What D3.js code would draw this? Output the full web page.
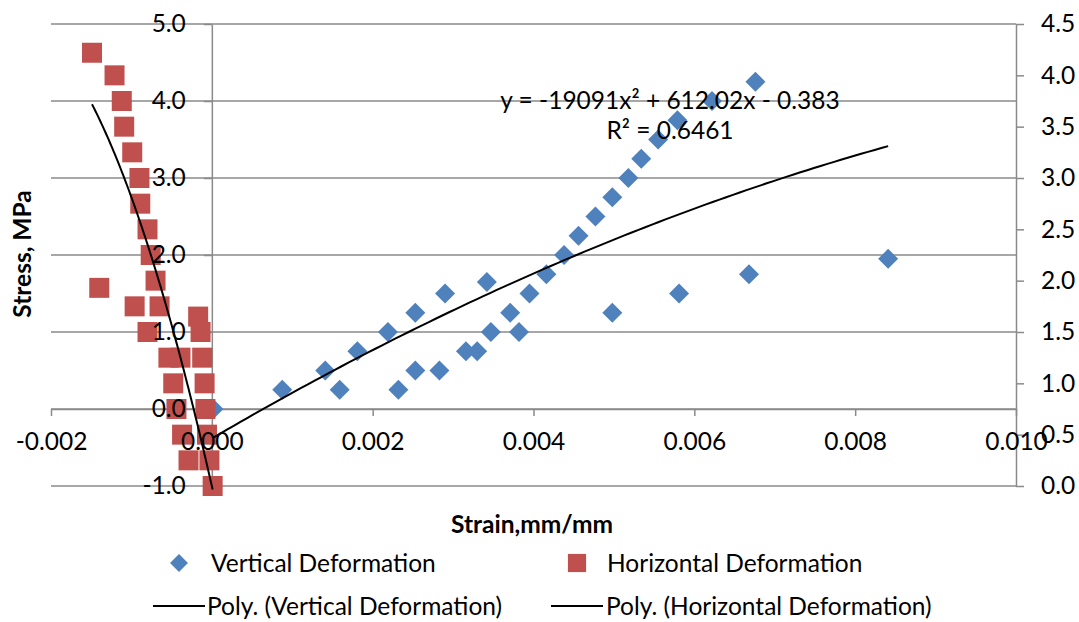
<!DOCTYPE html>
<html><head><meta charset="utf-8">
<script src="https://cdn.jsdelivr.net/npm/d3@7"></script>
<style>
html,body{margin:0;padding:0;background:#fff;}
svg text{font-family:Lato,"Open Sans",sans-serif;fill:#000;}
</style></head>
<body><svg id="c" width="1079" height="622"></svg>
<script>
// ---- data ----
const vertStrain = [0.00002,0.000876,0.00141,0.00159,0.00181,0.00219,0.00232,0.00253,0.00253,0.00283,0.00290,0.00316,0.00330,0.00342,0.00347,0.00371,0.00382,0.00395,0.00416,0.00438,0.00456,0.00477,0.00498,0.00518,0.00534,0.00555,0.00579,0.00622,0.00676,0.00498,0.00581,0.00668,0.00841];
const vertStress = [0,0.25,0.5,0.25,0.75,1.0,0.25,1.25,0.5,0.5,1.5,0.75,0.75,1.65,1.0,1.25,1.0,1.5,1.75,2.0,2.25,2.5,2.75,3.0,3.25,3.5,3.75,4.0,4.25,1.25,1.5,1.75,1.95];
const horzStrain = [-0.00149,-0.00121,-0.00112,-0.00109,-0.00099,-0.00090,-0.00089,-0.00080,-0.00076,-0.00070,-0.00140,-0.00096,-0.00065,-0.00017,-0.00080,-0.00014,-0.00054,-0.00039,-0.00012,-0.00048,-0.00009,-0.00044,-0.00008,-0.00037,-0.00006,-0.00029,-0.00003,0.00001];
const horzStress = [4.22,4.0,3.75,3.5,3.25,3.0,2.75,2.5,2.25,2.0,1.93,1.75,1.75,1.65,1.5,1.5,1.25,1.25,1.25,1.0,1.0,0.75,0.75,0.5,0.5,0.25,0.25,0];
// polynomial trendline coefficients [a, b, c] for y = a x^2 + b x + c
const vertPolyCoef = [-19091, 612.02, -0.383];   // printed on the chart
const horzPolyCoef = [-645900, -3458, 0];        // estimated from the drawn curve
const xTicks = [-0.002,0,0.002,0.004,0.006,0.008,0.010];
const yLeftTicks = [-1,0,1,2,3,4,5];
const yRightTicks = [0,0.5,1,1.5,2,2.5,3,3.5,4,4.5];
const eqLines = ["y = -19091x\u00B2 + 612.02x - 0.383","R\u00B2 = 0.6461"];
const xTitle = "Strain,mm/mm", yTitle = "Stress, MPa";
const legendNames = ["Vertical Deformation","Horizontal Deformation","Poly. (Vertical Deformation)","Poly. (Horizontal Deformation)"];

const svg = d3.select("#c");
const x = d3.scaleLinear().domain([-0.002,0.010]).range([51,1016]);
const yL = d3.scaleLinear().domain([-1,5]).range([486,24]);
const yR = d3.scaleLinear().domain([0,4.5]).range([486,24]);
const grid = "#8a8a8a";
const FS = 24.5;
const blue = "#4F81BD", red = "#C0504D";

// gridlines
svg.append("g").selectAll("line").data(yLeftTicks).join("line")
  .attr("x1",x(-0.002)).attr("x2",x(0.010)).attr("y1",d=>yL(d)).attr("y2",d=>yL(d))
  .attr("stroke",grid).attr("stroke-width",1.5);

const axB = d3.axisBottom(x).tickValues(xTicks).tickFormat(d=>d.toFixed(3)).tickSize(7).tickSizeOuter(0).tickPadding(17);
const axL = d3.axisLeft(yL).tickValues(yLeftTicks).tickFormat(d=>d.toFixed(1)).tickSize(8).tickSizeOuter(0).tickPadding(18);
const axR = d3.axisRight(yR).tickValues(yRightTicks).tickFormat(d=>d.toFixed(1)).tickSize(8).tickSizeOuter(0).tickPadding(17);
const axes = [[axB,`translate(0,${yL(0)})`],[axL,`translate(${x(0)},0)`],[axR,`translate(${x(0.010)},0)`]];

// axis lines (under the markers)
axes.forEach(([ax,tr])=>{
  const g = svg.append("g").attr("transform",tr).call(ax);
  g.selectAll("text").remove();
  g.selectAll("path.domain").attr("stroke",grid).attr("stroke-width",1.5);
  g.selectAll(".tick line").attr("stroke",grid).attr("stroke-width",1.5);
});

// markers
const diamond = d3.symbol().type(d3.symbolSquare).size(200);
const square = d3.symbol().type(d3.symbolSquare).size(400);
svg.append("g").selectAll("path").data(vertStrain.map((s,i)=>[s,vertStress[i]])).join("path")
  .attr("d",diamond).attr("fill",blue)
  .attr("transform",d=>`translate(${x(d[0])},${yL(d[1])}) rotate(45)`);
svg.append("g").selectAll("path").data(horzStrain.map((s,i)=>[s,horzStress[i]])).join("path")
  .attr("d",square).attr("fill",red)
  .attr("transform",d=>`translate(${x(d[0])},${yR(d[1])})`);

// trendlines
function polyPts(coef, xs){
  const [a,b,c] = coef, lo=d3.min(xs), hi=d3.max(xs);
  return d3.range(0,101).map(i=>{const t=lo+(hi-lo)*i/100;return [t,a*t*t+b*t+c];});
}
svg.append("path").datum(polyPts(vertPolyCoef, vertStrain))
  .attr("d",d3.line().x(d=>x(d[0])).y(d=>yL(d[1])))
  .attr("fill","none").attr("stroke","#000").attr("stroke-width",2);
svg.append("path").datum(polyPts(horzPolyCoef, horzStrain))
  .attr("d",d3.line().x(d=>x(d[0])).y(d=>yR(d[1])))
  .attr("fill","none").attr("stroke","#000").attr("stroke-width",2);

// axis labels (on top)
axes.forEach(([ax,tr])=>{
  const g = svg.append("g").attr("transform",tr).call(ax);
  g.selectAll("path.domain").remove();
  g.selectAll(".tick line").remove();
  g.selectAll("text").attr("font-size",FS).attr("font-family","Lato").attr("fill","#000");
});

// equation
svg.append("g").selectAll("text").data(eqLines).join("text")
  .attr("x",670).attr("y",(d,i)=>100+i*30).attr("dy","0.35em").attr("text-anchor","middle")
  .attr("font-size",FS).text(d=>d);

// axis titles
svg.append("text").attr("x",532).attr("y",524).attr("dy","0.35em").attr("text-anchor","middle")
  .attr("font-size",FS).attr("font-weight","bold").text(xTitle);
svg.append("text").attr("transform","translate(22,254) rotate(-90)").attr("dy","0.35em").attr("text-anchor","middle")
  .attr("font-size",FS).attr("font-weight","bold").text(yTitle);

// legend
const lg = svg.append("g");
lg.append("path").attr("d",d3.symbol().type(d3.symbolSquare).size(160)).attr("fill",blue).attr("transform","translate(179,563) rotate(45)");
lg.append("text").attr("x",211).attr("y",563).attr("dy","0.35em").attr("font-size",FS).text(legendNames[0]);
lg.append("path").attr("d",d3.symbol().type(d3.symbolSquare).size(330)).attr("fill",red).attr("transform","translate(577,563)");
lg.append("text").attr("x",607).attr("y",563).attr("dy","0.35em").attr("font-size",FS).text(legendNames[1]);
lg.append("line").attr("x1",153).attr("x2",205).attr("y1",606).attr("y2",606).attr("stroke","#000").attr("stroke-width",2);
lg.append("text").attr("x",207).attr("y",606).attr("dy","0.35em").attr("font-size",FS).text(legendNames[2]);
lg.append("line").attr("x1",551).attr("x2",603).attr("y1",606).attr("y2",606).attr("stroke","#000").attr("stroke-width",2);
lg.append("text").attr("x",606).attr("y",606).attr("dy","0.35em").attr("font-size",FS).text(legendNames[3]);
</script></body></html>
